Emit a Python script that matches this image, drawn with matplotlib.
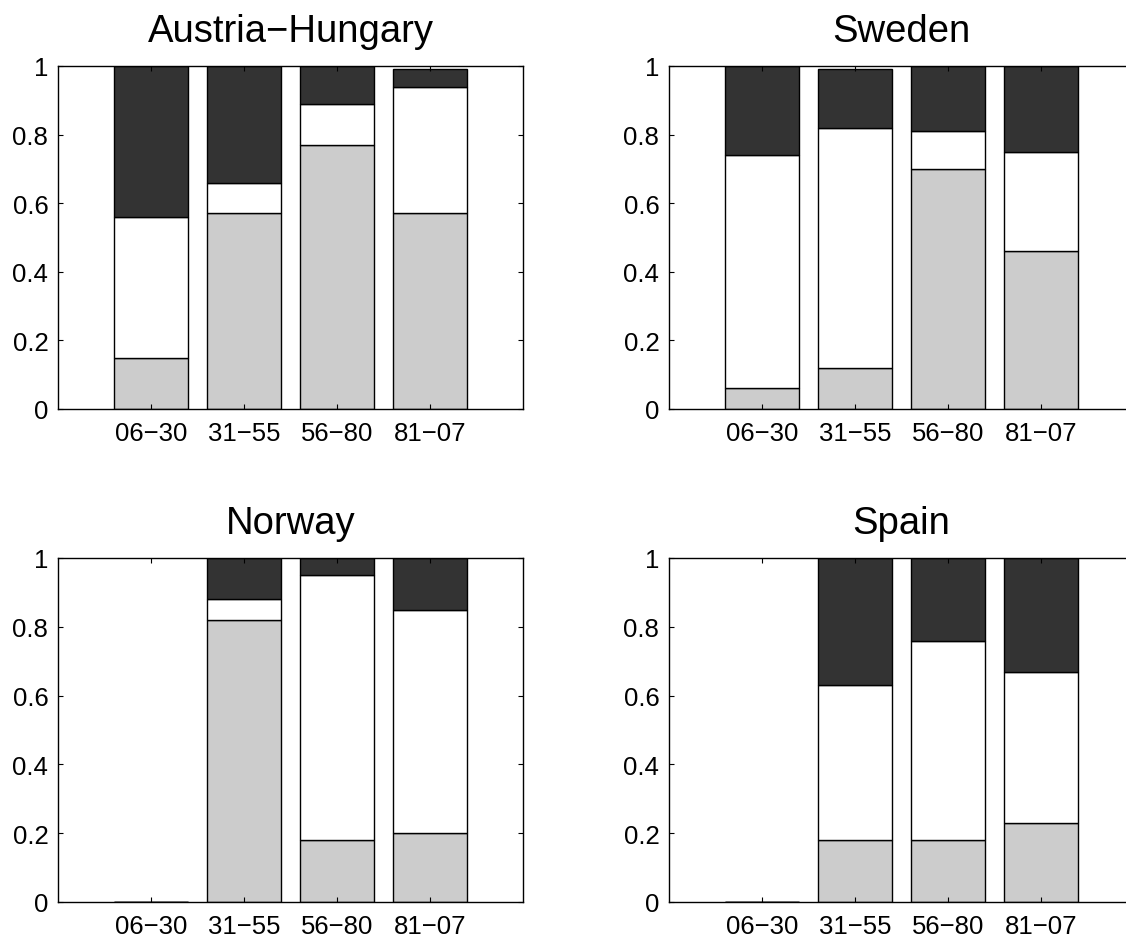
import numpy as np
import matplotlib
matplotlib.use("Agg")
import matplotlib.pyplot as plt

plt.rcParams['font.family'] = ['Liberation Sans', 'DejaVu Sans']

periods = ["06\u221230", "31\u221255", "56\u221280", "81\u221207"]
countries = ["Austria\u2212Hungary", "Sweden", "Norway", "Spain"]

# segment sizes per period: bottom (light grey), middle (white), top (dark)
austria_grey = [0.15, 0.57, 0.77, 0.57]
austria_white = [0.41, 0.09, 0.12, 0.37]
austria_dark = [0.44, 0.34, 0.11, 0.05]

sweden_grey = [0.06, 0.12, 0.70, 0.46]
sweden_white = [0.68, 0.70, 0.11, 0.29]
sweden_dark = [0.26, 0.17, 0.19, 0.25]

norway_grey = [0.0, 0.82, 0.18, 0.20]
norway_white = [0.0, 0.06, 0.77, 0.65]
norway_dark = [0.0, 0.12, 0.05, 0.15]

spain_grey = [0.0, 0.18, 0.18, 0.23]
spain_white = [0.0, 0.45, 0.58, 0.44]
spain_dark = [0.0, 0.37, 0.24, 0.33]

data = {
    "Austria\u2212Hungary": (austria_grey, austria_white, austria_dark),
    "Sweden": (sweden_grey, sweden_white, sweden_dark),
    "Norway": (norway_grey, norway_white, norway_dark),
    "Spain": (spain_grey, spain_white, spain_dark),
}

W, H = 1126, 945
fig = plt.figure(figsize=(W / 100, H / 100), dpi=100)

# axes boxes in pixels: left, top, width, height
boxes = [(58, 67, 465, 343), (669, 67, 465, 343),
         (58, 559, 465, 344), (669, 559, 465, 344)]
colors = ["#cccccc", "#ffffff", "#333333"]

for name, (l, t, w, h) in zip(countries, boxes):
    ax = fig.add_axes([l / W, (H - t - h) / H, w / W, h / H])
    x = np.arange(1, 5)
    bottom = np.zeros(4)
    for seg, c in zip(data[name], colors):
        ax.bar(x, seg, width=0.8, bottom=bottom, color=c,
               edgecolor="black", linewidth=1.0)
        bottom = bottom + np.array(seg)
    ax.set_xlim(0, 5)
    ax.set_ylim(0, 1)
    ax.set_xticks(x)
    ax.set_xticklabels(periods)
    ax.set_yticks([0, 0.2, 0.4, 0.6, 0.8, 1])
    ax.set_yticklabels(["0", "0.2", "0.4", "0.6", "0.8", "1"])
    ax.tick_params(direction="in", length=3.4, width=0.8, top=True, right=True,
                   labelsize=18.5, pad=7)
    ax.tick_params(axis="x", pad=9)
    for sp in ax.spines.values():
        sp.set_linewidth(1.0)
    ax.set_title(name, fontsize=27.5, pad=18)

fig.savefig("out.png", dpi=100)
